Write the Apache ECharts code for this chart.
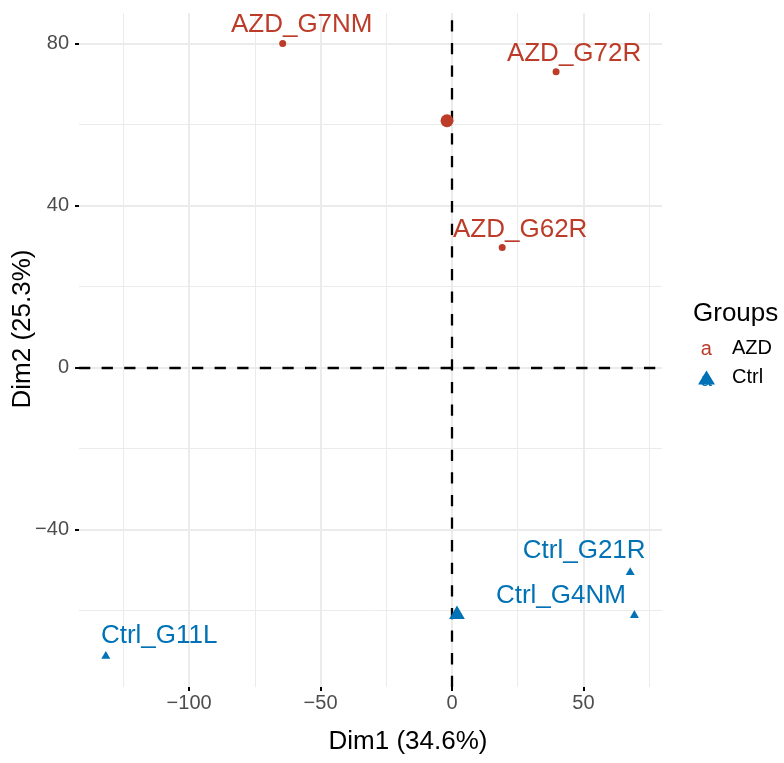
<!DOCTYPE html>
<html><head><meta charset="utf-8">
<script src="https://cdn.jsdelivr.net/npm/echarts@6/dist/echarts.min.js"></script>
<style>html,body{margin:0;padding:0;background:#fff}#c{width:784px;height:763px}</style>
</head><body><div id="c"></div>
<script>
const FONT = '"Liberation Sans", Arial, Helvetica, sans-serif';
const RED = '#BC3C29', BLUE = '#0072B5';

// ---- data ----
const azdNames = ['AZD_G7NM', 'AZD_G72R', 'AZD_G62R'];
const azdDim1 = [-64.4, 39.6, 19.1];
const azdDim2 = [80.0, 73.0, 29.6];
const ctrlNames = ['Ctrl_G21R', 'Ctrl_G4NM', 'Ctrl_G11L'];
const ctrlDim1 = [67.8, 69.4, -131.7];
const ctrlDim2 = [-50.6, -61.2, -71.3];
const azdCentroid = [-1.9, 60.9];
const ctrlCentroid = [1.9, -61.0];

const xMajor = [-100, -50, 0, 50];
const xMinor = [-125, -75, -25, 25, 75];
const yMajor = [-40, 0, 40, 80];
const yMinor = [-60, -20, 20, 60];
const xRange = [-141.9, 79.9];
const yRange = [-78.9, 87.5];

const xTitle = 'Dim1 (34.6%)';
const yTitle = 'Dim2 (25.3%)';
const legendTitle = 'Groups';

// repelled label placement (pixel offsets from the point)
const azdLabelOffset = [[19, -19], [18, -18], [18, -18]];
const ctrlLabelOffset = [[-46, -21.5], [-73.5, -19], [53.4, -20.6]];

const fmt = v => (v < 0 ? '\u2212' + Math.abs(v) : String(v));

const chart = echarts.init(document.getElementById('c'), null, {renderer: 'canvas'});

const azdData = azdNames.map((n, i) => ({name: n, value: [azdDim1[i], azdDim2[i]]}));
const ctrlData = ctrlNames.map((n, i) => ({name: n, value: [ctrlDim1[i], ctrlDim2[i]]}));

function gridLines(xs, ys, width, z) {
  return {
    type: 'scatter', data: [], silent: true, z: z,
    markLine: {
      silent: true, symbol: ['none', 'none'], label: {show: false},
      emphasis: {disabled: true}, animation: false,
      lineStyle: {color: '#EBEBEB', width: width, type: 'solid'},
      data: xs.map(v => ({xAxis: v})).concat(ys.map(v => ({yAxis: v})))
    }
  };
}

function labelSeries(data, offsets, color) {
  return {
    type: 'scatter', symbol: 'circle', symbolSize: 0, silent: true, z: 20,
    data: data.map((d, i) => ({
      name: d.name, value: d.value,
      label: {offset: offsets[i]}
    })),
    label: {
      show: true, formatter: '{b}', position: 'inside', align: 'center', verticalAlign: 'middle',
      color: color, fontSize: 26, fontFamily: FONT, opacity: 1
    },
    itemStyle: {color: color, opacity: 1}
  };
}

const option = {
  animation: false,
  backgroundColor: '#fff',
  textStyle: {fontFamily: FONT},
  grid: {left: 79, top: 13, width: 583, height: 674, containLabel: false},
  xAxis: {
    type: 'value', min: xRange[0], max: xRange[1],
    axisLine: {show: false, onZero: false},
    splitLine: {show: false},
    axisTick: {show: true, length: 4, customValues: xMajor, lineStyle: {color: '#000', width: 2}},
    axisLabel: {customValues: xMajor, formatter: fmt, color: '#4D4D4D', fontSize: 20, margin: 6, fontFamily: FONT}
  },
  yAxis: {
    type: 'value', min: yRange[0], max: yRange[1],
    axisLine: {show: false, onZero: false},
    splitLine: {show: false},
    axisTick: {show: true, length: 4, customValues: yMajor, lineStyle: {color: '#000', width: 2}},
    axisLabel: {customValues: yMajor, formatter: fmt, color: '#4D4D4D', fontSize: 20, margin: 10, fontFamily: FONT}
  },
  legend: {
    orient: 'vertical', left: 698, top: 338.5, padding: 0, itemWidth: 17, itemHeight: 14, itemGap: 9,
    selectedMode: false, z: 5,
    textStyle: {fontSize: 20, color: '#000', fontFamily: FONT, padding: [0, 0, 0, 12]},
    data: [
      {name: 'AZD', icon: 'none'},
      {name: 'Ctrl', icon: 'triangle'}
    ]
  },
  title: {
    text: legendTitle, left: 693, top: 301, padding: 0,
    textStyle: {fontSize: 26, fontWeight: 'normal', color: '#000', fontFamily: FONT}
  },
  graphic: [
    {type: 'text', x: 706.3, y: 349, z: 10,
      style: {text: 'a', fill: RED, font: '20px ' + FONT, textAlign: 'center', textVerticalAlign: 'middle'}},
    {type: 'text', x: 706.3, y: 380, z: 1,
      style: {text: 'a', fill: BLUE, font: '20px ' + FONT, textAlign: 'center', textVerticalAlign: 'middle'}},
    {type: 'text', x: 408, y: 742, z: 10,
      style: {text: xTitle, fill: '#000', font: '26px ' + FONT, textAlign: 'center', textVerticalAlign: 'middle'}},
    {type: 'text', x: 23, y: 329, rotation: Math.PI / 2, z: 10,
      style: {text: yTitle, fill: '#000', font: '26px ' + FONT, textAlign: 'center', textVerticalAlign: 'middle'}}
  ],
  series: [
    gridLines(xMinor, yMinor, 1, 1),
    gridLines(xMajor, yMajor, 2, 2),
    {
      type: 'scatter', data: [], silent: true, z: 3,
      markLine: {
        silent: true, symbol: ['none', 'none'], label: {show: false}, emphasis: {disabled: true},
        lineStyle: {color: '#000', width: 2.3, type: [11.3, 11.3]},
        data: [{xAxis: 0}, {yAxis: 0}]
      }
    },
    {name: 'AZD', type: 'scatter', symbol: 'circle', symbolSize: 7, z: 10,
      itemStyle: {color: RED, opacity: 1}, data: azdData},
    {name: 'AZD', type: 'scatter', symbol: 'circle', symbolSize: 13, z: 10,
      itemStyle: {color: RED, opacity: 1}, data: [{value: azdCentroid}]},
    {name: 'Ctrl', type: 'scatter', symbol: 'triangle', symbolSize: [9, 7.8], symbolOffset: [0, -1.3], z: 10,
      itemStyle: {color: BLUE, opacity: 1}, data: ctrlData},
    {name: 'Ctrl', type: 'scatter', symbol: 'triangle', symbolSize: [15.7, 13.6], symbolOffset: [0, -2.3], z: 10,
      itemStyle: {color: BLUE, opacity: 1}, data: [{value: ctrlCentroid}]},
    labelSeries(azdData, azdLabelOffset, RED),
    labelSeries(ctrlData, ctrlLabelOffset, BLUE)
  ]
};
chart.setOption(option);
</script>
</body></html>
